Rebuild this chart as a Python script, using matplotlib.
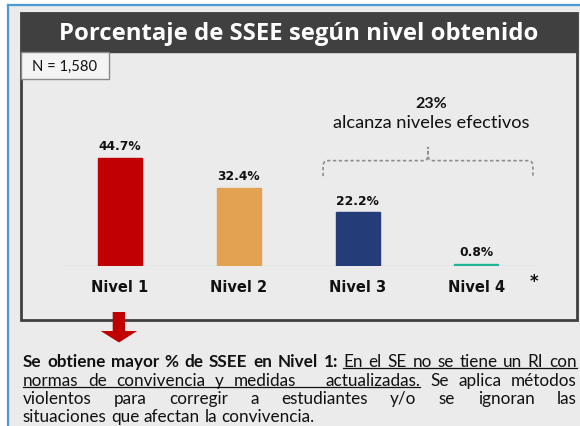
import matplotlib
matplotlib.use("Agg")
import matplotlib.pyplot as plt
from matplotlib.patches import Rectangle, Polygon, PathPatch
from matplotlib.path import Path

# datos
niveles = ["Nivel 1", "Nivel 2", "Nivel 3", "Nivel 4"]
porcentajes = [44.7, 32.4, 22.2, 0.8]
colores = ["#c00000", "#e3a152", "#243d78", "#1fb394"]
titulo = "Porcentaje de SSEE según nivel obtenido"
n_texto = "N = 1,580"
efectivos = "23%"
efectivos_txt = "alcanza niveles efectivos"

# b = negrita, u = subrayado, n = normal
parrafo = [
    [("Se obtiene mayor % de SSEE en Nivel 1:", "b"), ("En el SE no se tiene un RI con", "u")],
    [("normas de convivencia y medidas   actualizadas.", "u"), ("Se aplica métodos", "n")],
    [("violentos para corregir a estudiantes y/o se ignoran las", "n")],
    [("situaciones que afectan la convivencia.", "n")],
]

W, H = 580, 427
FONDO = "#ebebeb"
OSCURO = "#404040"
TXT = "#111111"
CALIBRI = "Lato"

fig = plt.figure(figsize=(W / 100, H / 100), dpi=100)
fig.patch.set_facecolor("white")
r = fig.canvas.get_renderer()

# capa de fondo en pixeles
ov = fig.add_axes([0, 0, 1, 1])
ov.set_xlim(0, W)
ov.set_ylim(H, 0)
ov.axis("off")

ov.add_patch(Rectangle((8, 6), W, H, facecolor=FONDO, edgecolor="none"))
ov.plot([8, 8], [6, H], color="#4b9ad6", lw=1.6)
ov.plot([8, W], [6, 6], color="#4b9ad6", lw=1.6)

# caja principal y barra de titulo
ov.add_patch(Rectangle((20.7, 13.5), 556, 307, facecolor="none", edgecolor=OSCURO, lw=2, zorder=3))
ov.add_patch(Rectangle((20.7, 13.5), 556, 39.8, facecolor=OSCURO, edgecolor=OSCURO, lw=1, zorder=3))


def fit(t, target):
    w = t.get_window_extent(r).width
    t.set_fontsize(t.get_fontsize() * target / w)


t = ov.text(298.5, 34, titulo, color="white", fontsize=15, fontweight="bold",
            family="Open Sans", ha="center", va="center", zorder=4)
fit(t, 477)

ov.add_patch(Rectangle((20.7, 53.3), 88, 26.5, facecolor="#f4f4f4", edgecolor="#8a8a8a", lw=1, zorder=3))
t = ov.text(65, 67, n_texto, fontsize=9, family=CALIBRI, ha="center", va="center", color=TXT, zorder=4)
fit(t, 65)

# flecha roja
ov.add_patch(Polygon([[112.7, 313], [125, 313], [125, 332], [137, 332], [119, 343.5],
                      [100.7, 332], [112.7, 332]], closed=True, facecolor="#c00000",
                     edgecolor="none", zorder=4))

# parrafo justificado
X0, X1 = 22.7, 576.7
bases = [367, 386, 404, 422]
fs_par = 11.0
prueba = ov.text(0, 0, parrafo[3][0][0], fontsize=fs_par, family=CALIBRI)
fs_par = fs_par * 290 / prueba.get_window_extent(r).width
prueba.remove()

for k, (segs, yb) in enumerate(zip(parrafo, bases)):
    palabras = []
    for txt, st in segs:
        for w in txt.split(" "):
            palabras.append((w, st))
    arts, anchos = [], []
    for w, st in palabras:
        a = ov.text(0, yb, w, fontsize=fs_par, family=CALIBRI, va="baseline", color=TXT,
                    fontweight="bold" if st == "b" else "normal")
        arts.append(a)
        anchos.append(a.get_window_extent(r).width if w else 0.0)
    if k < len(parrafo) - 1:
        gap = (X1 - X0 - sum(anchos)) / (len(palabras) - 1)
    else:
        gap = 0.26 * fs_par * 100 / 72
    x = X0
    pos = []
    for a, wd in zip(arts, anchos):
        a.set_x(x)
        pos.append((x, x + wd))
        x += wd + gap
    # subrayado
    i = 0
    while i < len(palabras):
        if palabras[i][1] == "u":
            j = i
            while j + 1 < len(palabras) and palabras[j + 1][1] == "u":
                j += 1
            ov.plot([pos[i][0], pos[j][1]], [yb + 2.2, yb + 2.2], color=TXT, lw=0.9)
            i = j + 1
        else:
            i += 1

# grafico de barras
PX_POR_PCT = 108 / 44.7
base_px, top_px = 267, 90
ax = fig.add_axes([60.6 / W, (H - base_px) / H, 475.2 / W, (base_px - top_px) / H])
ax.set_facecolor("none")
ax.set_xlim(-0.5, 3.5)
ax.set_ylim(0, (base_px - top_px) / PX_POR_PCT)
ax.axis("off")

x = list(range(len(niveles)))
ax.bar(x, porcentajes, width=0.37, color=colores, edgecolor=colores, lw=1.0, zorder=3)
ax.axhline(0, color="#d2d2d2", lw=1, zorder=2)

for i, (lab, v) in enumerate(zip(niveles, porcentajes)):
    ax.annotate(f"{v}%", (i, v), xytext=(0, 8.9), textcoords="offset points",
                ha="center", va="center", fontsize=8.8, fontweight="bold", color=TXT)
    ax.annotate(lab, (i, 0), xytext=(0, -14.9), textcoords="offset points",
                ha="center", va="center", fontsize=10.5, fontweight="bold", color=TXT,
                annotation_clip=False)

ax.annotate("*", (3.485, 0), xytext=(0, -11), textcoords="offset points",
            ha="center", va="center", fontsize=12, fontweight="bold", color=TXT,
            annotation_clip=False)

# llave punteada sobre niveles 3 y 4
bx0, bx1 = 1.709, 3.476
bm = (bx0 + bx1) / 2
y_pie, y_h, y_pico = 37.2, 43.6, 49.3
rr = 0.06
verts = [(bx0, y_pie), (bx0, y_h), (bx0, y_h), (bx0 + rr, y_h),
         (bm - rr, y_h),
         (bm, y_h), (bm, y_h), (bm, y_pico),
         (bm, y_h), (bm, y_h), (bm + rr, y_h),
         (bx1 - rr, y_h),
         (bx1, y_h), (bx1, y_h), (bx1, y_pie)]
codes = [Path.MOVETO, Path.CURVE4, Path.CURVE4, Path.CURVE4,
         Path.LINETO,
         Path.CURVE4, Path.CURVE4, Path.CURVE4,
         Path.CURVE4, Path.CURVE4, Path.CURVE4,
         Path.LINETO,
         Path.CURVE4, Path.CURVE4, Path.CURVE4]
ax.add_patch(PathPatch(Path(verts, codes), facecolor="none", edgecolor="#8e8e8e",
                       lw=1.2, linestyle=(0, (2, 1.5)), clip_on=False))

ax.text(2.62, 67.5, efectivos, ha="center", va="center", fontsize=11.5,
        fontweight="bold", family=CALIBRI, color=TXT)
t = ax.text(2.62, 59.6, efectivos_txt, ha="center", va="center", fontsize=12,
            family=CALIBRI, color=TXT)
fit(t, 197)

fig.savefig("out.png", dpi=100, facecolor=fig.get_facecolor())
